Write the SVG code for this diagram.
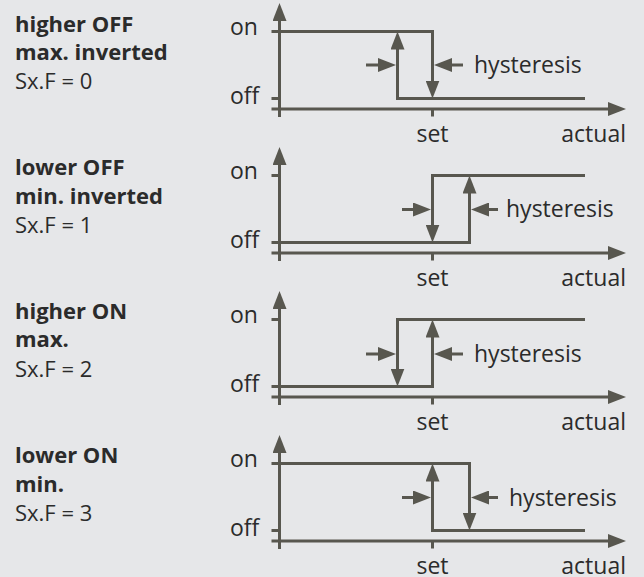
<svg xmlns="http://www.w3.org/2000/svg" width="644" height="577" viewBox="0 0 644 577">
<style>
.ln{fill:none;stroke:#58574f;stroke-width:3;stroke-linejoin:miter}
.ar{fill:none;stroke:#58574f;stroke-width:3;marker-end:url(#ah)}
.t{font-family:"Open Sans","Noto Sans",sans-serif;font-size:23px;fill:#2b2b2b}
.lb{font-family:"Open Sans","Noto Sans",sans-serif;font-size:22px;fill:#2b2b2b}
.b{font-weight:bold}
</style>
<defs>
<marker id="ah" markerUnits="userSpaceOnUse" viewBox="0 -7 18 14" refX="1" refY="0" markerWidth="18" markerHeight="14" orient="auto">
<path d="M0,-7 L18,0 L0,7 Z" fill="#58574f"/>
</marker>
<g id="axes">
<path class="ar" d="M279.5 117 V20"/>
<path class="ar" d="M271.5 109 H609"/>
<path class="ln" d="M271.5 31.5 H279.5 M271.5 98.5 H279.5 M432.5 109 V116.5"/>
<text class="t" x="230" y="34.5">on</text>
<text class="t" x="230" y="104">off</text>
<text class="t" x="432.5" y="141.5" text-anchor="middle">set</text>
<text class="t" x="626" y="141.5" text-anchor="end">actual</text>
</g>
</defs>
<rect width="644" height="577" fill="#e6e7e9"/>

<g id="panel0">
<text class="lb b" x="15" y="31.5">higher OFF</text>
<text class="lb b" x="15" y="59.5">max. inverted</text>
<text class="lb" x="15" y="89">Sx.F = 0</text>
<use href="#axes"/>
<text class="t" x="474" y="72.5">hysteresis</text>
</g>

<g id="panel1" transform="translate(0,144)">
<text class="lb b" x="15" y="31">lower OFF</text>
<text class="lb b" x="15" y="60">min. inverted</text>
<text class="lb" x="15" y="89">Sx.F = 1</text>
<use href="#axes"/>
<text class="t" x="506" y="72.5">hysteresis</text>
</g>

<g id="panel2" transform="translate(0,288)">
<text class="lb b" x="15" y="30.5">higher ON</text>
<text class="lb b" x="15" y="59">max.</text>
<text class="lb" x="15" y="89">Sx.F = 2</text>
<use href="#axes"/>
<text class="t" x="474" y="73.5">hysteresis</text>
</g>

<g id="panel3" transform="translate(0,432)">
<text class="lb b" x="15" y="30.5">lower ON</text>
<text class="lb b" x="15" y="59.5">min.</text>
<text class="lb" x="15" y="89">Sx.F = 3</text>
<use href="#axes"/>
<text class="t" x="509" y="74">hysteresis</text>
</g>

<g id="connectors">
<g>
<path class="ar" d="M279.5 31.5 H432.5 V81.5"/>
<path class="ar" d="M585 98.5 H397.5 V48.5"/>
<path class="ar" d="M366 65 H379"/>
<path class="ar" d="M463 65 H451"/>
</g>
<g transform="translate(0,144)">
<path class="ar" d="M279.5 98.5 H469.5 V48.5"/>
<path class="ar" d="M585 31.5 H432.5 V81.5"/>
<path class="ar" d="M402 65.5 H414"/>
<path class="ar" d="M498 65.5 H488"/>
</g>
<g transform="translate(0,288)">
<path class="ar" d="M279.5 98.5 H432.5 V48.5"/>
<path class="ar" d="M585 31.5 H397.5 V81.5"/>
<path class="ar" d="M366 66 H379"/>
<path class="ar" d="M463 66 H451"/>
</g>
<g transform="translate(0,432)">
<path class="ar" d="M279.5 31.5 H469.5 V81.5"/>
<path class="ar" d="M585 98.5 H432.5 V48.5"/>
<path class="ar" d="M402 65.5 H414"/>
<path class="ar" d="M498 65.5 H488"/>
</g>
</g>
</svg>
